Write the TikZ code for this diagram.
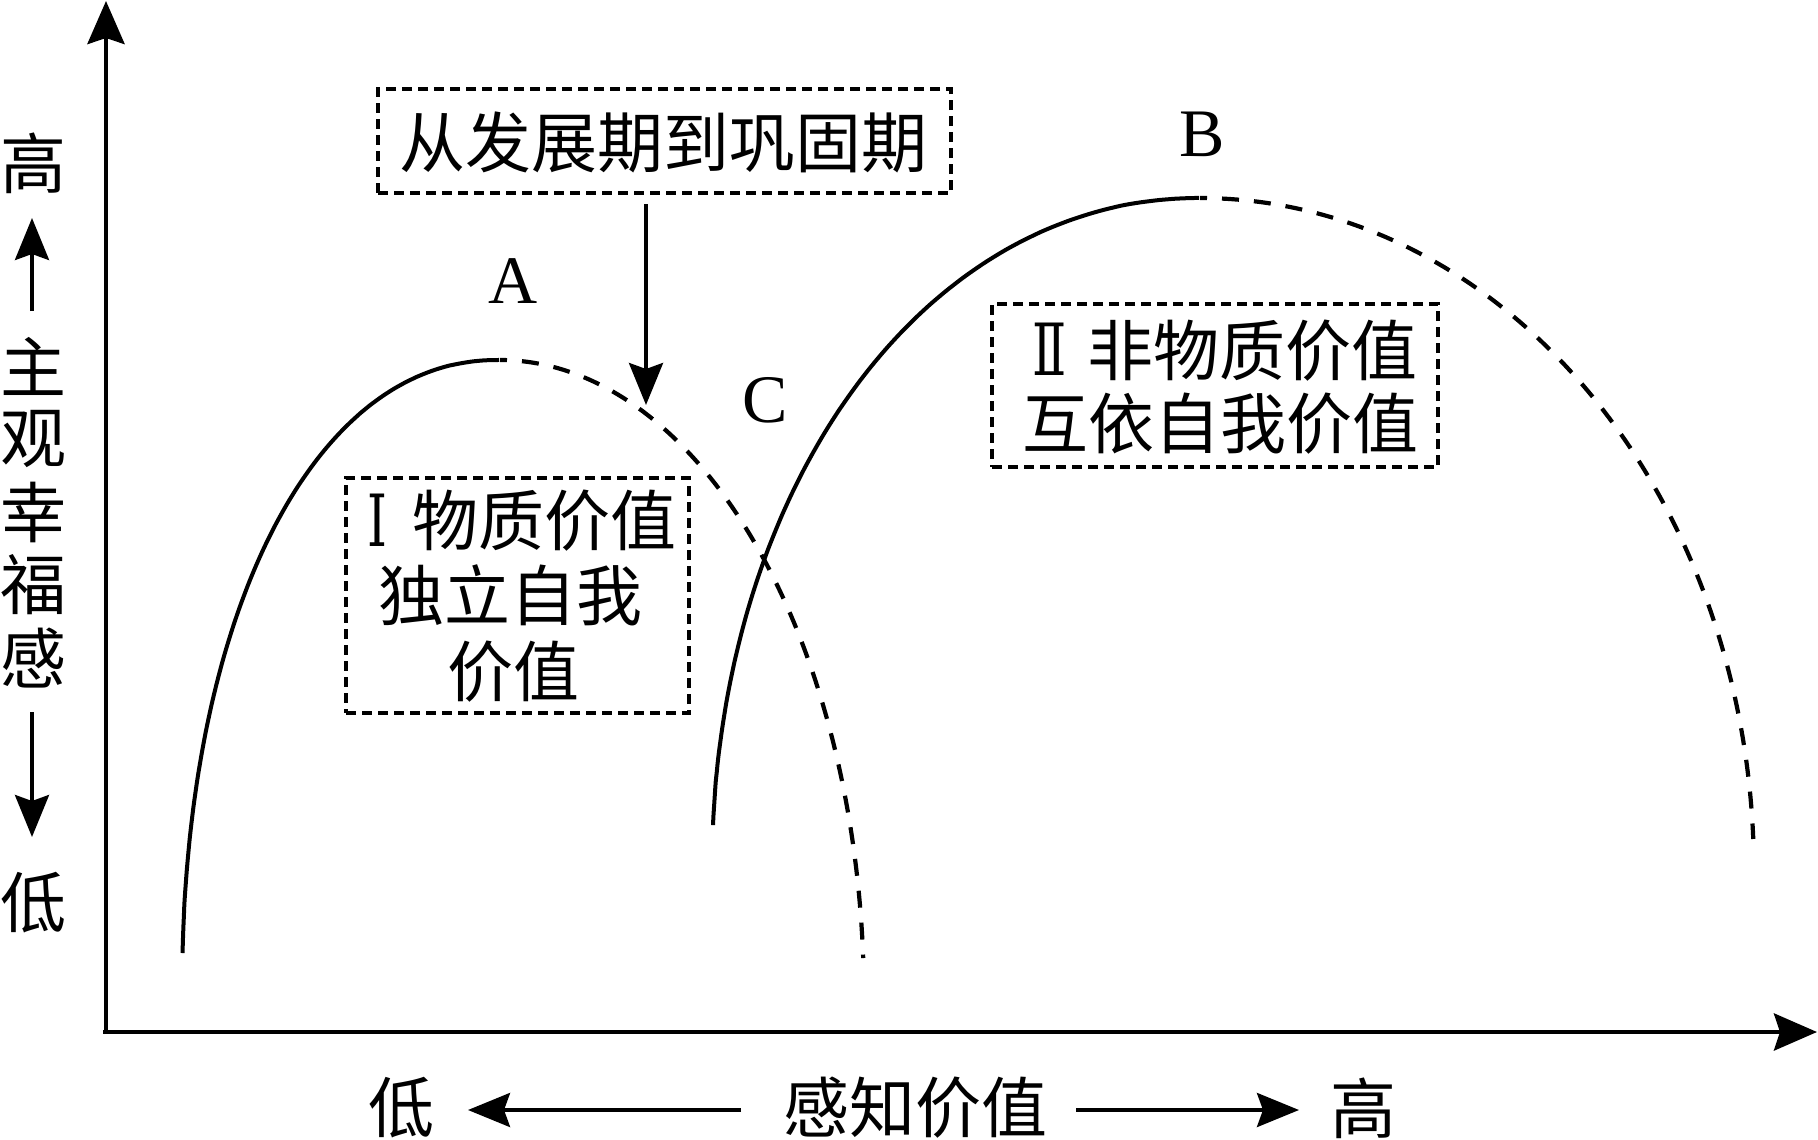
\documentclass[tikz,border=0pt]{standalone}
\usepackage{fontspec}
\setmainfont{Liberation Serif}
\newfontfamily\cjkf{Noto Sans CJK SC}
\newfontfamily\romf{DejaVu Serif}
\usetikzlibrary{arrows.meta}
\begin{document}
\begin{tikzpicture}[x=1pt,y=-1pt,
  axisline/.style={line width=4.6pt,-{Stealth[length=43pt,width=37pt,inset=6pt]}},
  smallarr/.style={line width=3.8pt,-{Stealth[length=42pt,width=34pt,inset=6pt]}},
  solidc/.style={line width=4pt},
  dashc/.style={line width=4.2pt,dash pattern=on 17pt off 15pt,dash phase=10pt},
  dbox/.style={draw,line width=4pt,dash pattern=on 10pt off 6pt,inner sep=0pt},
  zh/.style={font=\cjkf\fontsize{66}{73}\selectfont,inner sep=0pt},
  lt/.style={font=\fontsize{68}{72}\selectfont,inner sep=0pt},
  rn/.style={font=\romf\fontsize{72}{72}\selectfont,inner sep=0pt}]
\useasboundingbox (0,0) rectangle (1818,1140);

% axes
\coordinate (O) at (106,1034);
\coordinate (Ytop) at (106,1);
\coordinate (Xend) at (1817,1032);
\coordinate (Ostart) at (103,1032);
\draw[axisline] (O) -- (Ytop);
\draw[axisline] (Ostart) -- (Xend);

% left axis labels
\node[zh] (yhigh) at (33,163) {高};
\coordinate (ua0) at (32,311);
\coordinate (ua1) at (32,218);
\draw[smallarr] (ua0) -- (ua1);
\node[zh] (y1) at (33,366) {主};
\node[zh] (y2) at (33,439) {观};
\node[zh] (y3) at (33,512) {幸};
\node[zh] (y4) at (33,585) {福};
\node[zh] (y5) at (33,658) {感};
\coordinate (da0) at (32,712);
\coordinate (da1) at (32,837);
\draw[smallarr] (da0) -- (da1);
\node[zh] (ylow) at (33,903) {低};

% bottom labels
\node[zh] (xlow) at (401,1108) {低};
\node[zh] (xmid) at (915,1108) {感知价值};
\node[zh] (xhigh) at (1363,1108) {高};
\coordinate (la0) at (741,1110);
\coordinate (la1) at (468,1110);
\coordinate (ra0) at (1076,1110);
\coordinate (ra1) at (1299,1110);
\draw[smallarr] (la0) -- (la1);
\draw[smallarr] (ra0) -- (ra1);

% curve I (peak A)
\draw[solidc] plot[smooth,samples=90,domain=3.46:89.9,variable=\t]
  ({500-318*pow(cos(\t),0.9302)},{1000-640*pow(sin(\t),0.9302)});
\draw[dashc] plot[smooth,samples=90,domain=90:3.76,variable=\t]
  ({500+364*cos(\t)},{1000-640*sin(\t)});

% curve II (peak B)
\draw[solidc] plot[smooth,samples=100,domain=3.73:89.9,variable=\t]
  ({1200-488*pow(cos(\t),0.9756)},{873-675*pow(sin(\t),0.9756)});
\draw[dashc] plot[smooth,samples=100,domain=90:2.89,variable=\t]
  ({1200+554*cos(\t)},{873-675*sin(\t)});

% point labels
\node[lt] (A) at (513,281) {A};
\node[lt] (B) at (1202,134) {B};
\node[lt] (C) at (765,400) {C};

% box: from development to consolidation
\node[dbox,minimum width=573pt,minimum height=104pt] (box1) at (664.5,141) {};
\node[zh] (t1) at (663,142) {从发展期到巩固期};
\coordinate (src) at (646,204);
\coordinate (tgt) at (646,405);
\draw[smallarr] (src) -- (tgt);

% box I
\node[dbox,minimum width=343pt,minimum height=235pt] (boxI) at (517.5,595.5) {};
\node[rn] (rI) at (377,520) {\scalebox{0.7}[1]{Ⅰ}};
\node[zh] (bI1) at (544,521) {物质价值};
\node[zh] (bI2) at (510,595) {独立自我};
\node[zh] (bI3) at (513,672) {价值};

% box II
\node[dbox,minimum width=446pt,minimum height=163pt] (boxII) at (1215,385.5) {};
\node[rn] (rII) at (1050,349) {\scalebox{0.7}[1]{Ⅱ}};
\node[zh] (bII1) at (1252,351) {非物质价值};
\node[zh] (bII2) at (1220,424) {互依自我价值};
\end{tikzpicture}
\end{document}
